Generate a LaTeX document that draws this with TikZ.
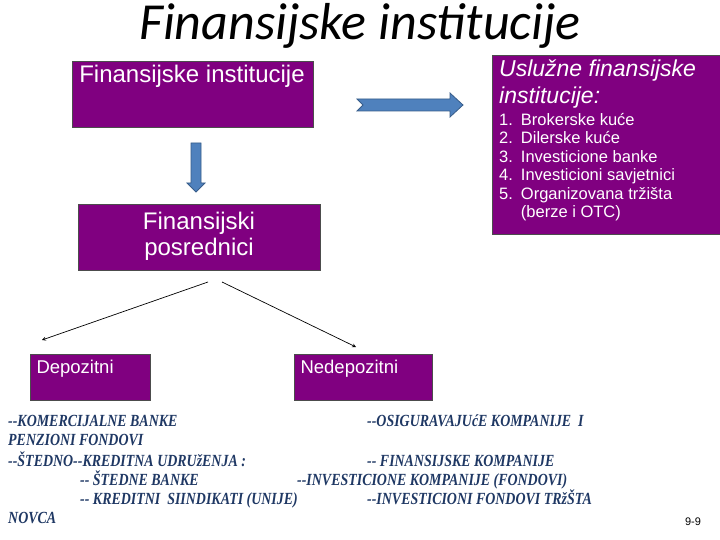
\documentclass[tikz,border=0pt]{standalone}
\usepackage{fontspec}
\setmainfont{Liberation Sans}
\newfontfamily\titlefont{Carlito}
\newfontfamily\listfont[FakeStretch=0.82]{Liberation Serif}
\definecolor{purp}{HTML}{800080}
\definecolor{navy}{HTML}{1F3864}
\definecolor{ablue}{HTML}{4F81BD}
\definecolor{aedge}{HTML}{385D8A}
\begin{document}
\begin{tikzpicture}[x=1pt,y=-1pt,
  pbox/.style={fill=purp,draw=black!70,line width=0.6pt},
  btxt/.style={anchor=base west,text=navy,font=\listfont\bfseries\itshape\fontsize{17}{19}\selectfont,inner sep=0},
  barrow/.style={fill=ablue,draw=aedge,line width=0.8pt}]
\useasboundingbox (0,0) rectangle (720,540);
\fill[white] (0,0) rectangle (720,540);
\node[font=\titlefont\itshape\fontsize{52}{56}\selectfont] (title) at (360,26) {Finansijske institucije};
% boxes
\draw[pbox] (72,61) rectangle (313,127);
\node[text=white,font=\fontsize{24}{28}\selectfont] (fi) at (192,76) {Finansijske institucije};
\draw[pbox] (492,55) rectangle (720,234);
\node[text=white,anchor=north west,inner sep=0,align=left,font=\itshape\fontsize{23}{27}\selectfont] (us) at (499,60)
 {Uslužne finansijske\\institucije:};
\node[text=white,anchor=north west,inner sep=0,font=\fontsize{16.5}{18.5}\selectfont] (ul) at (499,112)
 {\begin{tabular}{@{}l@{\hspace{8pt}}l@{}}
  1. & Brokerske kuće\\ 2. & Dilerske kuće\\ 3. & Investicione banke\\
  4. & Investicioni savjetnici\\ 5. & Organizovana tržišta\\ & (berze i OTC)
  \end{tabular}};
\draw[pbox] (78,204) rectangle (320,270);
\node[text=white,align=center,font=\fontsize{24}{26}\selectfont] (fp) at (199,236) {Finansijski\\posrednici};
\draw[pbox] (30,354) rectangle (150,400);
\node[text=white,anchor=west,font=\fontsize{18.5}{20}\selectfont] (dep) at (33,369) {Depozitni};
\draw[pbox] (294,354) rectangle (432,400);
\node[text=white,anchor=west,font=\fontsize{18.5}{20}\selectfont] (ndep) at (297,369) {Nedepozitni};
% block arrows
\draw[barrow] (357,99) -- (450,99) -- (450,93) -- (463,105) -- (450,117) -- (450,111) -- (357,111) -- (363,105) -- cycle;
\draw[barrow] (191,143) -- (201,143) -- (201,183) -- (205,183) -- (196,192) -- (187,183) -- (191,183) -- cycle;
% connectors
\coordinate (s1) at (208,282); \coordinate (s2) at (222,282);
\coordinate (e1) at (42,340); \coordinate (e2) at (356,347);
\draw[-stealth,line width=0.7pt] (s1) -- (e1);
\draw[-stealth,line width=0.7pt] (s2) -- (e2);
% bottom text
\node[btxt] (t1) at (8,426) {--KOMERCIJALNE BANKE};
\node[btxt] (t2) at (367,426) {--OSIGURAVAJUćE KOMPANIJE\ \ I};
\node[btxt] (t3) at (8,445) {PENZIONI FONDOVI};
\node[btxt] (t4) at (8,466) {--ŠTEDNO--KREDITNA UDRUžENJA :};
\node[btxt] (t5) at (367,466) {-- FINANSIJSKE KOMPANIJE};
\node[btxt] (t6) at (80,485) {-- ŠTEDNE BANKE};
\node[btxt] (t7) at (297,485) {--INVESTICIONE KOMPANIJE (FONDOVI)};
\node[btxt] (t8) at (80,504) {-- KREDITNI\ \ SIINDIKATI (UNIJE)};
\node[btxt] (t9) at (367,504) {--INVESTICIONI FONDOVI TRžŠTA};
\node[btxt] (t10) at (8,523) {NOVCA};
\node[font=\fontsize{11}{12}\selectfont] (pg) at (693,522) {9-9};
\end{tikzpicture}
\end{document}
